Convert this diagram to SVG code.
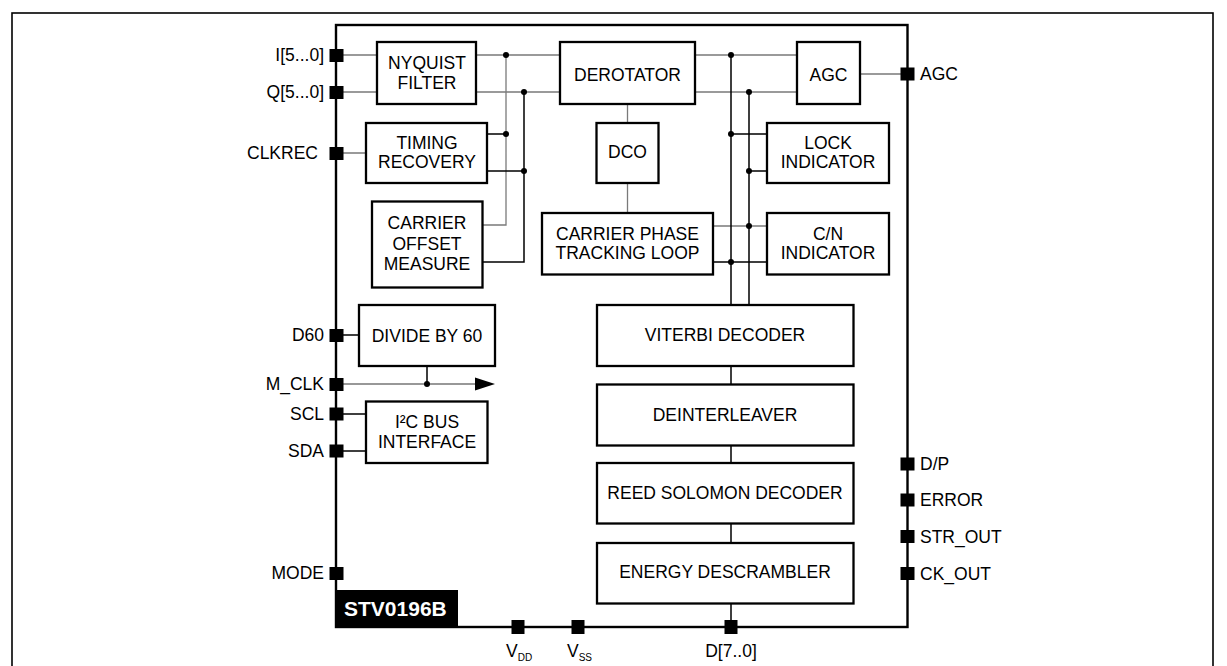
<svg xmlns="http://www.w3.org/2000/svg" width="1227" height="666" viewBox="0 0 1227 666">
<style>
.box{fill:#fff;stroke:#000;stroke-width:2.3}
.t{font-family:"Liberation Sans",Arial,sans-serif;font-size:17.5px;fill:#000;text-anchor:middle}
.pl{font-family:"Liberation Sans",Arial,sans-serif;font-size:17.5px;fill:#000;text-anchor:end}
.pr{font-family:"Liberation Sans",Arial,sans-serif;font-size:17.5px;fill:#000;text-anchor:start}
.g{fill:none;stroke:#7a7a7a;stroke-width:1.3}
.k{fill:none;stroke:#000;stroke-width:1.5}
.pin{fill:#000}
.dot{fill:#000}
</style>
<rect x="0" y="0" width="1227" height="666" fill="#fff"/>
<rect x="12" y="13" width="1201" height="700" fill="none" stroke="#000" stroke-width="1.6"/>
<g id="chip">
<rect x="336" y="25" width="571.5" height="602" fill="none" stroke="#000" stroke-width="2.4"/>
<rect x="335" y="590" width="123" height="38" fill="#000"/>
<text x="344" y="616" font-family="Liberation Sans,Arial,sans-serif" font-size="21" font-weight="bold" fill="#fff">STV0196B</text>
</g>
<g id="connectors">
<path class="g" d="M343 55H377M343 92H377M476 55H560M476 92H560M506 55V225H482M343 153H366M695 55H797M695 92H797M860 74H901M627.5 103V123M627.5 183V213M713 226H767"/>
<path class="k" d="M524 92V262H482M487 134H506M487 171H524M731 55V305M749 92V305M731 134H767M749 171H767M713 262H767M343 335H359M427 366V384M343 414H366M343 451H366M731 366V385M731 445V463M731 523V543M731 603V621"/>
<path d="M343 384H476" fill="none" stroke="#333" stroke-width="1.2"/>
<polygon points="475,377.5 495,384 475,390.5" fill="#000"/>
<circle class="dot" cx="506" cy="55" r="3"/>
<circle class="dot" cx="524" cy="92" r="3"/>
<circle class="dot" cx="506" cy="134" r="3"/>
<circle class="dot" cx="524" cy="171" r="3"/>
<circle class="dot" cx="731" cy="55" r="3"/>
<circle class="dot" cx="749" cy="92" r="3"/>
<circle class="dot" cx="731" cy="134" r="3"/>
<circle class="dot" cx="749" cy="171" r="3"/>
<circle class="dot" cx="749" cy="226" r="3"/>
<circle class="dot" cx="731" cy="262" r="3"/>
<circle class="dot" cx="427" cy="384" r="3"/>
</g>
<g id="nyquist"><rect class="box" x="377" y="42" width="99" height="62"/><text class="t" x="427" y="69">NYQUIST</text><text class="t" x="427" y="89">FILTER</text></g>
<g id="derotator"><rect class="box" x="560" y="42" width="135" height="62"/><text class="t" x="627.5" y="80.5">DEROTATOR</text></g>
<g id="agc"><rect class="box" x="797" y="42" width="63" height="62"/><text class="t" x="828.5" y="80.5">AGC</text></g>
<g id="timing"><rect class="box" x="366" y="123" width="121" height="60"/><text class="t" x="427" y="149">TIMING</text><text class="t" x="427" y="168">RECOVERY</text></g>
<g id="dco"><rect class="box" x="596.5" y="123" width="62" height="60"/><text class="t" x="627.5" y="158">DCO</text></g>
<g id="lock"><rect class="box" x="767" y="123" width="122" height="60"/><text class="t" x="828" y="149">LOCK</text><text class="t" x="828" y="168">INDICATOR</text></g>
<g id="carrier-offset"><rect class="box" x="372" y="201.5" width="110.5" height="86"/><text class="t" x="427" y="229">CARRIER</text><text class="t" x="427" y="250">OFFSET</text><text class="t" x="427" y="269.5">MEASURE</text></g>
<g id="cptl"><rect class="box" x="542" y="213" width="171" height="61.5"/><text class="t" x="627.5" y="239.5">CARRIER PHASE</text><text class="t" x="627.5" y="258.5">TRACKING LOOP</text></g>
<g id="cn"><rect class="box" x="767" y="213" width="122" height="61.5"/><text class="t" x="828" y="239.5">C/N</text><text class="t" x="828" y="258.5">INDICATOR</text></g>
<g id="divide"><rect class="box" x="359" y="305" width="136" height="61"/><text class="t" x="427" y="341.5">DIVIDE BY 60</text></g>
<g id="i2c"><rect class="box" x="366" y="401.5" width="121.5" height="61.5"/><text class="t" x="427" y="427.5">I²C BUS</text><text class="t" x="427" y="447.5">INTERFACE</text></g>
<g id="viterbi"><rect class="box" x="597" y="305" width="256.5" height="61"/><text class="t" x="725" y="341">VITERBI DECODER</text></g>
<g id="deinterleaver"><rect class="box" x="597" y="384.5" width="256.5" height="61"/><text class="t" x="725" y="420.5">DEINTERLEAVER</text></g>
<g id="reed-solomon"><rect class="box" x="597" y="463" width="256.5" height="60.5"/><text class="t" x="725" y="499">REED SOLOMON DECODER</text></g>
<g id="energy"><rect class="box" x="597" y="543" width="256.5" height="60.5"/><text class="t" x="725" y="578">ENERGY DESCRAMBLER</text></g>
<g id="pins">
<rect class="pin" x="329.5" y="49" width="14" height="13"/>
<rect class="pin" x="329.5" y="86" width="14" height="13"/>
<rect class="pin" x="329.5" y="147" width="14" height="13"/>
<rect class="pin" x="329.5" y="329" width="14" height="13"/>
<rect class="pin" x="329.5" y="378" width="14" height="13"/>
<rect class="pin" x="329.5" y="407.5" width="14" height="13"/>
<rect class="pin" x="329.5" y="444.5" width="14" height="13"/>
<rect class="pin" x="329.5" y="567" width="14" height="13"/>
<rect class="pin" x="900.5" y="67.5" width="14" height="13"/>
<rect class="pin" x="900.5" y="457.5" width="14" height="13"/>
<rect class="pin" x="900.5" y="493.5" width="14" height="13"/>
<rect class="pin" x="900.5" y="530" width="14" height="13"/>
<rect class="pin" x="900.5" y="567" width="14" height="13"/>
<rect class="pin" x="511.5" y="620" width="13" height="14"/>
<rect class="pin" x="571.5" y="620" width="13" height="14"/>
<rect class="pin" x="724.5" y="620" width="13" height="14"/>
</g>
<g id="pin-labels">
<text class="pl" x="324" y="61">I[5...0]</text>
<text class="pl" x="324" y="98">Q[5...0]</text>
<text class="pl" x="318" y="159">CLKREC</text>
<text class="pl" x="324" y="341">D60</text>
<text class="pl" x="324" y="390">M_CLK</text>
<text class="pl" x="324" y="420">SCL</text>
<text class="pl" x="324" y="457">SDA</text>
<text class="pl" x="324" y="579">MODE</text>
<text class="pr" x="920" y="80">AGC</text>
<text class="pr" x="920" y="470">D/P</text>
<text class="pr" x="920" y="506">ERROR</text>
<text class="pr" x="920" y="543">STR_OUT</text>
<text class="pr" x="920" y="580">CK_OUT</text>
<text class="pr" x="506" y="657">V<tspan font-size="10" dy="4">DD</tspan></text>
<text class="pr" x="567" y="657">V<tspan font-size="10" dy="4">SS</tspan></text>
<text class="t" x="731" y="657">D[7..0]</text>
</g>
</svg>
